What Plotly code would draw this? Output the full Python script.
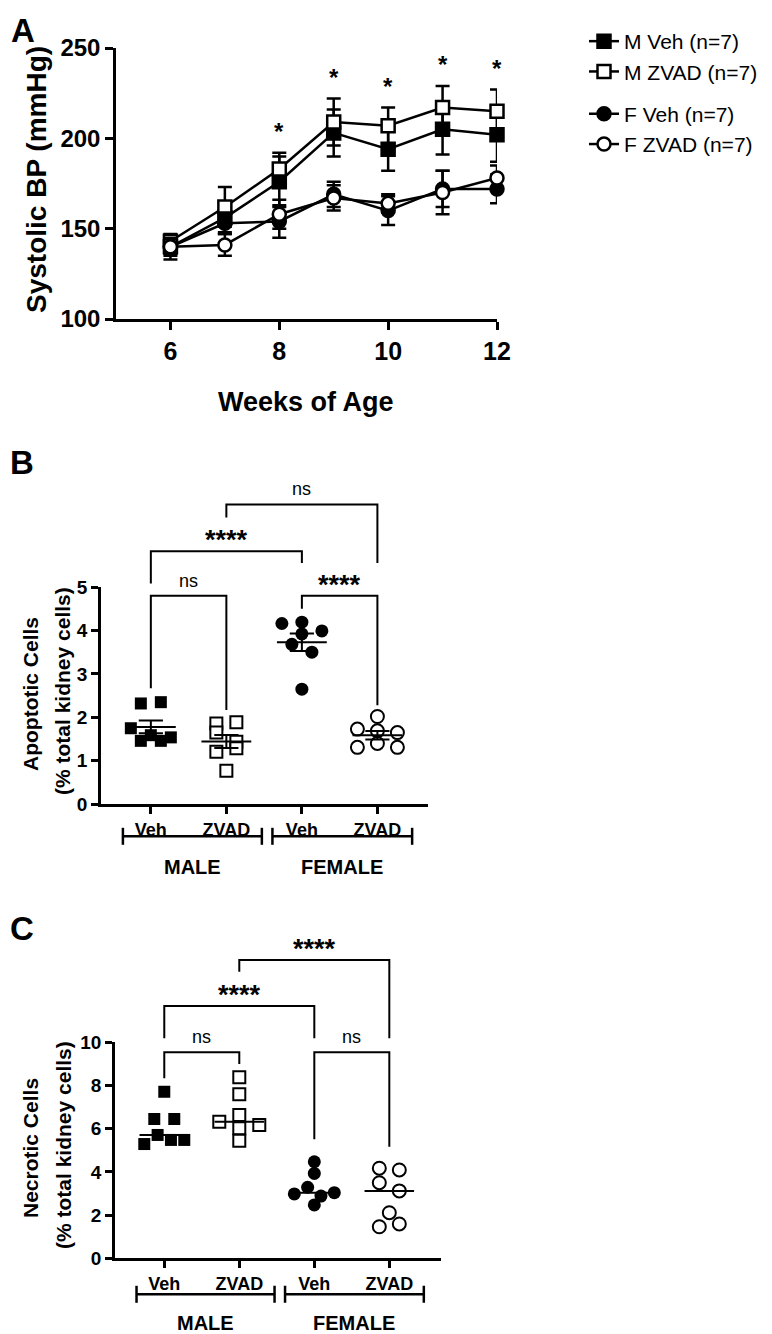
import plotly.graph_objects as go

# page geometry (the page body adds an 8px margin around the figure)
PAGE_W, PAGE_H = 772, 1334
OFF = 8
W, H = PAGE_W - OFF, PAGE_H - OFF
FONT = "Liberation Sans, Arial, Helvetica, sans-serif"

# ---------------- DATA ----------------
# Panel A: systolic BP (mean, SEM) by week of age
weeks = [6, 7, 8, 9, 10, 11, 12]
bp_m_veh = [140, 156, 176, 203, 194, 205, 202]
bp_m_veh_sem = [7, 8, 14, 13, 12, 14, 15]
bp_m_zvad = [143, 162, 183, 209, 207, 217, 215]
bp_m_zvad_sem = [3, 11, 9, 13, 10, 12, 12]
bp_f_veh = [140, 153, 154, 169, 160, 172, 172]
bp_f_veh_sem = [5, 6, 9, 7, 8, 10, 8]
bp_f_zvad = [140, 141, 158, 167, 164, 170, 178]
bp_f_zvad_sem = [4, 6, 8, 7, 5, 12, 7]
sig_weeks = [8, 9, 10, 11, 12]
legend_names = ["M Veh (n=7)", "M ZVAD (n=7)", "F Veh (n=7)", "F ZVAD (n=7)"]

# Panels B/C: categories
treatments = ["Veh", "ZVAD", "Veh", "ZVAD"]
sexes = ["MALE", "FEMALE"]

# Panel B: apoptotic cells (% total kidney cells)
apo_m_veh = [2.32, 2.35, 1.75, 1.59, 1.54, 1.46, 1.46]
apo_m_zvad = [1.86, 1.89, 1.65, 1.44, 1.21, 1.29, 0.77]
apo_f_veh = [4.16, 4.19, 3.99, 3.92, 3.68, 3.50, 2.65]
apo_f_zvad = [2.02, 1.73, 1.69, 1.65, 1.31, 1.40, 1.31]

# Panel C: necrotic cells (% total kidney cells)
nec_m_veh = [7.71, 6.45, 6.45, 5.29, 5.71, 5.48, 5.48]
nec_m_zvad = [8.38, 7.59, 6.32, 6.63, 6.17, 6.02, 5.44]
nec_f_veh = [4.47, 3.93, 2.98, 3.29, 2.88, 3.04, 2.47]
nec_f_zvad = [4.17, 4.09, 3.50, 3.12, 2.11, 1.46, 1.59]

# comparisons: (group i, group j, label)
cmp_B = [(0, 1, "ns"), (2, 3, "****"), (0, 2, "****"), (1, 3, "ns")]
cmp_C = [(0, 1, "ns"), (2, 3, "ns"), (0, 2, "****"), (1, 3, "****")]

# ---------------- LAYOUT / ANNOTATION GEOMETRY ----------------
# bracket geometry (bar level, left drop end, right drop end) in axis units
geom_B = [(4.8, 2.67, 2.17), (4.8, 4.5, 2.28), (5.82, 5.08, 5.55), (6.9, 6.6, 5.55)]
geom_C = [(9.54, 8.33, 9.0), (9.54, 5.51, 5.17), (11.68, 10.19, 10.19), (13.81, 13.27, 10.19)]


def xp(px):
    return (px - OFF) / W


def yp(py):
    return 1 - (py - OFF) / H


AX = dict(showgrid=False, zeroline=False, showline=True, linecolor="black", linewidth=2.5,
          ticks="outside", ticklen=7, tickwidth=2.5, tickcolor="black", automargin=False)


def tfont(size, bold=True):
    d = dict(family=FONT, size=size, color="black")
    if bold:
        d["weight"] = "bold"
    return d


def paper_text(text, cx, cy, size, angle=0, bold=True):
    return dict(x=xp(cx), y=yp(cy), xref="paper", yref="paper", text=text, showarrow=False,
                xanchor="center", yanchor="middle", textangle=angle, font=tfont(size, bold))


fig = go.Figure()
annotations = []

# ---------------- PANEL A ----------------
A_XPX = (116, 497)
A_YPX = (319, 48)
series_A = [
    (legend_names[0], bp_m_veh, bp_m_veh_sem, "square", "black", "M"),
    (legend_names[1], bp_m_zvad, bp_m_zvad_sem, "square", "white", "M"),
    (legend_names[2], bp_f_veh, bp_f_veh_sem, "circle", "black", "F"),
    (legend_names[3], bp_f_zvad, bp_f_zvad_sem, "circle", "white", "F"),
]
for name, m, s, sym, fill, grp in series_A:
    fig.add_trace(go.Scatter(
        x=weeks, y=m, name=name, mode="lines+markers",
        line=dict(color="black", width=2.5),
        marker=dict(symbol=sym, size=13, color=fill, line=dict(color="black", width=2.5)),
        error_y=dict(type="data", array=s, color="black", thickness=2.5, width=7),
        legendgroup=grp, cliponaxis=False, xaxis="x", yaxis="y"))

for w in sig_weeks:
    i = weeks.index(w)
    top = max(m[i] + s[i] for _, m, s, _, _, _ in series_A)
    annotations.append(dict(x=w, y=top, xref="x", yref="y", text="*", showarrow=False,
                            xanchor="center", yanchor="bottom", yshift=6, font=tfont(24)))

fig.update_layout(
    xaxis=dict(AX, domain=[xp(A_XPX[0]), xp(A_XPX[1])], range=[5, 12], tickvals=[6, 8, 10, 12],
               ticklen=8, tickfont=tfont(25), anchor="y"),
    yaxis=dict(AX, domain=[yp(A_YPX[0]), yp(A_YPX[1])], range=[100, 250],
               tickvals=[100, 150, 200, 250], ticklen=8, tickfont=tfont(24), anchor="x"),
)
annotations.append(paper_text("Weeks of Age", 306, 402, 27))
annotations.append(paper_text("Systolic BP (mmHg)", 37, 180, 28, angle=-90))


# ---------------- PANELS B / C ----------------
def swarm_offsets(vals, ypx, xpx, thr_px=10.2, max_px=20.0, step_px=20.0):
    order = sorted(range(len(vals)), key=lambda k: -vals[k])
    rows = []
    for k in order:
        if rows and (vals[rows[-1][0]] - vals[k]) * ypx <= thr_px:
            rows[-1].append(k)
        else:
            rows.append([k])
    off = [0.0] * len(vals)
    for row in rows:
        row = sorted(row)
        n = len(row)
        if n == 1:
            continue
        w = min(max_px, step_px * (n - 1) / 2)
        for j, k in enumerate(row):
            off[k] = (-w + 2 * w * j / (n - 1)) / xpx
    return off


def cat_panel(n, no, xdom_px, ydom_px, xr, yr, dtick, ovl_px, data, summary, comps, geom,
              grp_off_px, sex_off_px, title1, title2, tcenter_y):
    xa, ya, xo, yo = f"x{n}", f"y{n}", f"x{no}", f"y{no}"
    pxu_y = (ydom_px[0] - ydom_px[1]) / (yr[1] - yr[0])
    pxu_x = (xdom_px[1] - xdom_px[0]) / (xr[1] - xr[0])
    ov_lo = yr[0] - (ovl_px[0] - ydom_px[0]) / pxu_y
    ov_hi = yr[0] + (ydom_px[0] - ovl_px[1]) / pxu_y
    fig.update_layout(**{
        f"xaxis{n}": dict(AX, domain=[xp(xdom_px[0]), xp(xdom_px[1])], range=xr,
                          tickvals=list(range(len(treatments))), ticktext=treatments,
                          tickfont=tfont(18), anchor=ya),
        f"yaxis{n}": dict(AX, domain=[yp(ydom_px[0]), yp(ydom_px[1])], range=yr, dtick=dtick,
                          tickfont=tfont(19), anchor=xa),
        f"xaxis{no}": dict(domain=[xp(xdom_px[0]), xp(xdom_px[1])], range=xr, visible=False,
                           anchor=yo, fixedrange=True, automargin=False),
        f"yaxis{no}": dict(domain=[yp(ovl_px[0]), yp(ovl_px[1])], range=[ov_lo, ov_hi],
                           visible=False, anchor=xo, fixedrange=True, automargin=False),
    })
    styles = [("square", "black"), ("square", "white"), ("circle", "black"), ("circle", "white")]
    for ci, vals in enumerate(data):
        sym, fill = styles[ci]
        offs = swarm_offsets(vals, pxu_y, pxu_x)
        fig.add_trace(go.Scatter(
            x=[ci + o for o in offs], y=vals, mode="markers", showlegend=False,
            marker=dict(symbol=sym, size=12 if sym == "square" else 13, color=fill,
                        line=dict(color="black", width=2 if fill == "white" else 0)),
            cliponaxis=False, xaxis=xa, yaxis=ya))
    # summary lines
    for ci, vals in enumerate(data):
        nv = len(vals)
        mean = sum(vals) / nv
        if summary == "mean_sem":
            sd = (sum((v - mean) ** 2 for v in vals) / (nv - 1)) ** 0.5
            se = sd / nv ** 0.5
            xs = [ci - 0.33, ci + 0.33, None, ci - 0.16, ci + 0.16, None, ci, ci, None, ci - 0.16, ci + 0.16]
            ys = [mean, mean, None, mean + se, mean + se, None, mean - se, mean + se, None, mean - se, mean - se]
        else:
            sv = sorted(vals)
            med = sv[nv // 2] if nv % 2 else (sv[nv // 2 - 1] + sv[nv // 2]) / 2
            xs = [ci - 0.33, ci + 0.33]
            ys = [med, med]
        fig.add_trace(go.Scatter(x=xs, y=ys, mode="lines", showlegend=False,
                                 line=dict(color="black", width=2), xaxis=xa, yaxis=ya))
    # significance brackets
    for (i, j, lab), (bar, le, re) in zip(comps, geom):
        fig.add_trace(go.Scatter(x=[i, i, j, j], y=[le, bar, bar, re], mode="lines", showlegend=False,
                                 line=dict(color="black", width=2), xaxis=xo, yaxis=yo))
        if lab == "ns":
            annotations.append(dict(x=(i + j) / 2, y=bar + 15 / pxu_y, xref=xo, yref=yo, text="ns",
                                    showarrow=False, xanchor="center", yanchor="middle",
                                    font=tfont(18, bold=False)))
        else:
            annotations.append(dict(x=(i + j) / 2, y=bar + 11 / pxu_y, xref=xo, yref=yo, text=lab,
                                    showarrow=False, xanchor="center", yanchor="middle",
                                    font=tfont(27)))
    # group brackets below axis
    yb = yr[0] - grp_off_px / pxu_y
    cap = 8.5 / pxu_y
    for (a, b), sx in zip([(-0.37, 1.47), (1.61, 3.46)], sexes):
        fig.add_trace(go.Scatter(x=[a, a, None, a, b, None, b, b],
                                 y=[yb - cap, yb + cap, None, yb, yb, None, yb - cap, yb + cap],
                                 mode="lines", showlegend=False,
                                 line=dict(color="black", width=2.5), xaxis=xo, yaxis=yo))
        annotations.append(dict(x=(a + b) / 2, y=yr[0] - sex_off_px / pxu_y, xref=xo, yref=yo,
                                text=sx, showarrow=False, xanchor="center", yanchor="middle",
                                font=tfont(20)))
    annotations.append(paper_text(title1, 30, tcenter_y, 21, angle=-90))
    annotations.append(paper_text(title2, 63, tcenter_y - 3, 21, angle=-90))


cat_panel(2, 5, (101, 428), (804.3, 587.0), [-0.66, 3.67], [0, 5], 1, (900, 470),
          [apo_m_veh, apo_m_zvad, apo_f_veh, apo_f_zvad], "mean_sem", cmp_B, geom_B,
          32, 63, "Apoptotic Cells", "(% total kidney cells)", 694)
cat_panel(3, 6, (115, 440.7), (1258.3, 1042.3), [-0.657, 3.685], [0, 10], 2, (PAGE_H, 930),
          [nec_m_veh, nec_m_zvad, nec_f_veh, nec_f_zvad], "median", cmp_C, geom_C,
          36, 65, "Necrotic Cells", "(% total kidney cells)", 1148)

# panel letters
for lab, cx, cy in [("A", 23, 30), ("B", 22, 462), ("C", 22, 928)]:
    annotations.append(paper_text(lab, cx, cy, 33))

fig.update_layout(
    width=W, height=H, margin=dict(l=0, r=0, t=0, b=0, pad=0, autoexpand=False),
    paper_bgcolor="white", plot_bgcolor="rgba(0,0,0,0)",
    annotations=annotations,
    legend=dict(x=xp(584), y=yp(21), xanchor="left", yanchor="top", traceorder="grouped",
                tracegroupgap=12, bgcolor="rgba(0,0,0,0)",
                font=dict(family=FONT, size=21, color="black")),
)

fig.write_html("out.html")
